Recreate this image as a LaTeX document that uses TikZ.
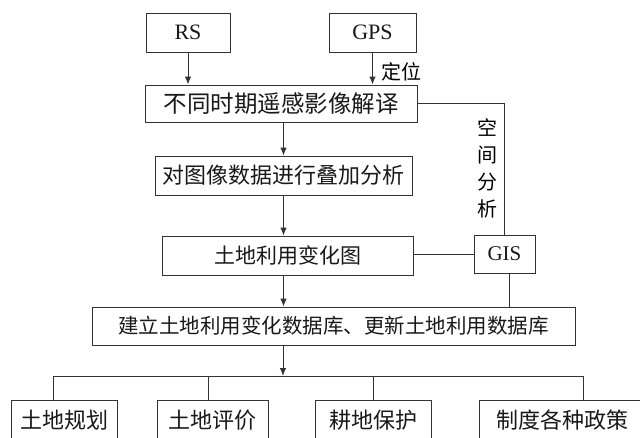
\documentclass[tikz,border=0pt]{standalone}
\usepackage{fontspec}
\setmainfont{Liberation Serif}
\newfontfamily\cjk{Noto Sans CJK SC}
\usetikzlibrary{arrows.meta}
\begin{document}
\begin{tikzpicture}[x=1pt,y=-1pt,
 box/.style={draw=black!80, line width=1pt, inner sep=0pt, text=black!90},
 ln/.style={draw=black!80, line width=1pt},
 arr/.style={ln, -{Latex[length=8pt,width=6.5pt]}},
 zh/.style={font=\cjk\fontsize{21}{25}\selectfont},
 zhb/.style={font=\cjk\fontsize{22}{26}\selectfont},
 en/.style={font=\fontsize{22}{26}\selectfont}]
\useasboundingbox (0,0) rectangle (640,437);
\clip (0,0) rectangle (640,437);
\fill[white] (0,0) rectangle (640,437);
% boxes
\node[box,en,minimum width=84pt,minimum height=39pt] (rs) at (188,32.5) {RS};
\node[box,en,minimum width=87pt,minimum height=39pt] (gps) at (372.5,32.5) {GPS};
\node[box,font=\cjk\fontsize{23.5}{27}\selectfont,minimum width=272pt,minimum height=37pt] (interp) at (281,103.5) {不同时期遥感影像解译};
\node[box,zhb,minimum width=257pt,minimum height=39pt] (ana) at (283.5,175.5) {对图像数据进行叠加分析};
\node[box,zh,minimum width=251pt,minimum height=39pt] (chg) at (287.5,255.5) {土地利用变化图};
\node[box,font=\fontsize{21}{25}\selectfont,minimum width=61pt,minimum height=38pt] (gis) at (504.5,254) {GIS};
\node[box,font=\cjk\fontsize{20.5}{25}\selectfont,minimum width=483pt,minimum height=38pt] (db) at (333.5,326) {建立土地利用变化数据库、更新土地利用数据库};
\node[box,zhb,minimum width=106pt,minimum height=40pt] (b1) at (64,420) {土地规划};
\node[box,zhb,minimum width=111pt,minimum height=40pt] (b2) at (212.5,420) {土地评价};
\node[box,zhb,minimum width=116pt,minimum height=40pt] (b3) at (373,420) {耕地保护};
\node[box,zhb,minimum width=166pt,minimum height=40pt] (b4) at (562,420) {制度各种政策};
% labels
\node[font=\cjk\fontsize{20}{24}\selectfont,inner sep=0pt] (dw) at (401,72) {定位};
\node[font=\cjk\fontsize{20}{27}\selectfont,inner sep=0pt,align=center] (kj) at (487,168) {空\\间\\分\\析};
% connectors
\draw[arr] (rs) -- (rs |- interp.north);
\draw[arr] (gps) -- (gps |- interp.north);
\draw[ln] (interp.east) -| (gis.north);
\draw[ln] (gis.west) -- (gis.west -| chg.east);
\draw[ln] ([xshift=4.5pt]gis.south) -- ([xshift=4.5pt]gis.south |- db.north);
\draw[arr] (interp.south -| ana.north) -- (ana.north);
\draw[arr] (ana.south) -- (ana.south |- chg.north);
\draw[arr] (chg.south -| ana.south) -- (db.north -| ana.south);
\coordinate (split) at (283,376);
\draw[arr] (db.south -| split) -- (split);
\coordinate (t1) at (53,376);
\coordinate (t2) at (208,376);
\coordinate (t3) at (373,376);
\coordinate (t4) at (583,376);
\draw[ln] (t1) -- (t4);
\draw[ln] (t1) -- (t1 |- b1.north);
\draw[ln] (t2) -- (t2 |- b2.north);
\draw[ln] (t3) -- (t3 |- b3.north);
\draw[ln] (t4) -- (t4 |- b4.north);
\end{tikzpicture}
\end{document}
